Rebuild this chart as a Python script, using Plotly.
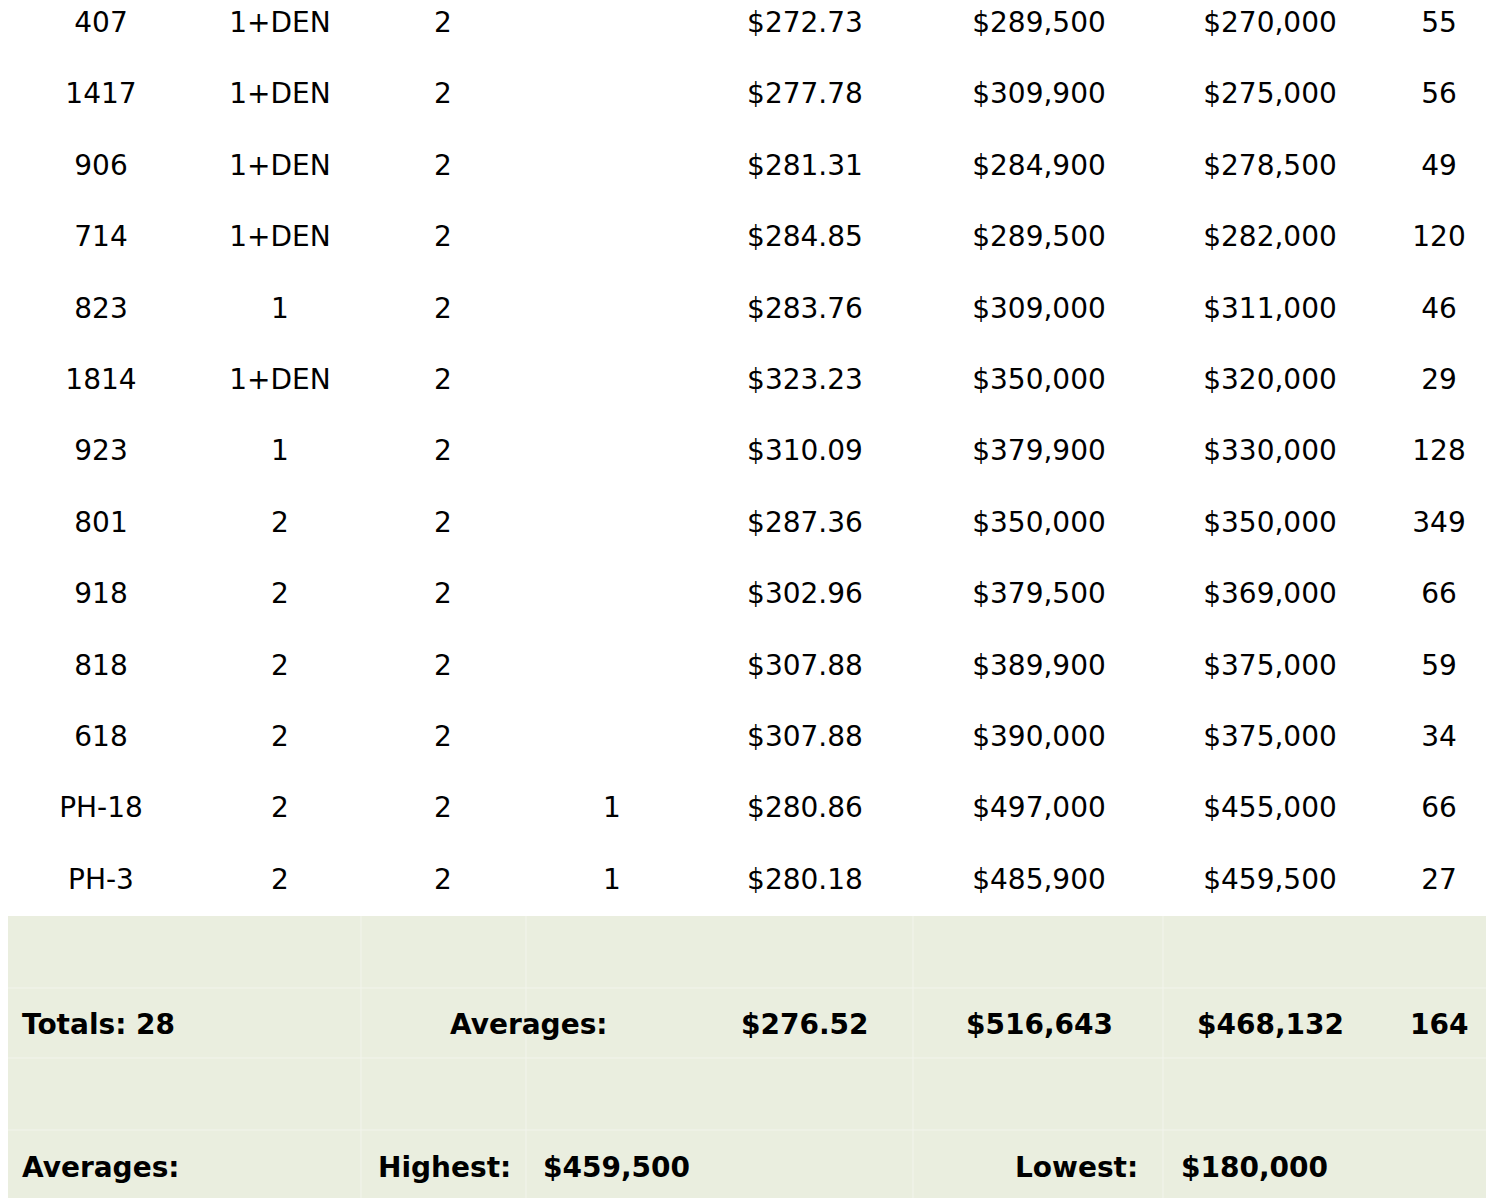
import plotly.graph_objects as go

# Table data
units = ["407", "1417", "906", "714", "823", "1814", "923", "801", "918", "818", "618", "PH-18", "PH-3"]
beds = ["1+DEN", "1+DEN", "1+DEN", "1+DEN", "1", "1+DEN", "1", "2", "2", "2", "2", "2", "2"]
baths = ["2"] * 13
parking = ["", "", "", "", "", "", "", "", "", "", "", "1", "1"]
price_sqft = ["$272.73", "$277.78", "$281.31", "$284.85", "$283.76", "$323.23", "$310.09",
              "$287.36", "$302.96", "$307.88", "$307.88", "$280.86", "$280.18"]
list_price = ["$289,500", "$309,900", "$284,900", "$289,500", "$309,000", "$350,000", "$379,900",
              "$350,000", "$379,500", "$389,900", "$390,000", "$497,000", "$485,900"]
sold_price = ["$270,000", "$275,000", "$278,500", "$282,000", "$311,000", "$320,000", "$330,000",
              "$350,000", "$369,000", "$375,000", "$375,000", "$455,000", "$459,500"]
dom = ["55", "56", "49", "120", "46", "29", "128", "349", "66", "59", "34", "66", "27"]

W, H = 1494, 1198
off = 8  # page margin of the html body
col_x = [101, 280, 443, 612, 805, 1039, 1270, 1439]
row_y0, row_h = 25, 71.4
green = "#EAEEDF"
font = "DejaVu Sans, Verdana, sans-serif"

fig = go.Figure()
columns = [units, beds, baths, parking, price_sqft, list_price, sold_price, dom]
for cx, col in zip(col_x, columns):
    fig.add_trace(go.Scatter(
        x=[cx] * len(col),
        y=[row_y0 + i * row_h for i in range(len(col))],
        mode="text", text=col,
        textfont=dict(family=font, size=28, color="black"),
        hoverinfo="none"
    ))

shapes = [dict(type="rect", x0=2, x1=W + off, y0=916, y1=H + off, fillcolor=green, line_width=0, layer="below")]
for vx in [361, 526, 913, 1163]:
    shapes.append(dict(type="line", x0=vx, x1=vx, y0=916, y1=H + off, line=dict(color="#F2F4EC", width=1)))
for hy in [988, 1058, 1130]:
    shapes.append(dict(type="line", x0=2, x1=W + off, y0=hy, y1=hy, line=dict(color="#F2F4EC", width=1)))

# footer labels
footer = [
    (20, 1024, "left", "Totals: 28"),
    (529, 1024, "center", "Averages:"),
    (805, 1024, "center", "$276.52"),
    (1039, 1024, "center", "$516,643"),
    (1270, 1024, "center", "$468,132"),
    (1439, 1024, "center", "164"),
    (20, 1167, "left", "Averages:"),
    (376, 1167, "left", "Highest:"),
    (541, 1167, "left", "$459,500"),
    (1140, 1167, "right", "Lowest:"),
    (1179, 1167, "left", "$180,000"),
]
annotations = [dict(x=x, y=y, xanchor=a, yanchor="middle", text="<b>%s</b>" % t, showarrow=False,
                    font=dict(family=font, size=28, color="black")) for x, y, a, t in footer]

fig.update_layout(
    width=W, height=H, margin=dict(l=0, r=0, t=0, b=0),
    paper_bgcolor="white", plot_bgcolor="white", showlegend=False,
    xaxis=dict(range=[off, W + off], visible=False),
    yaxis=dict(range=[H + off, off], visible=False),
    shapes=shapes, annotations=annotations
)

fig.write_html("out.html")
